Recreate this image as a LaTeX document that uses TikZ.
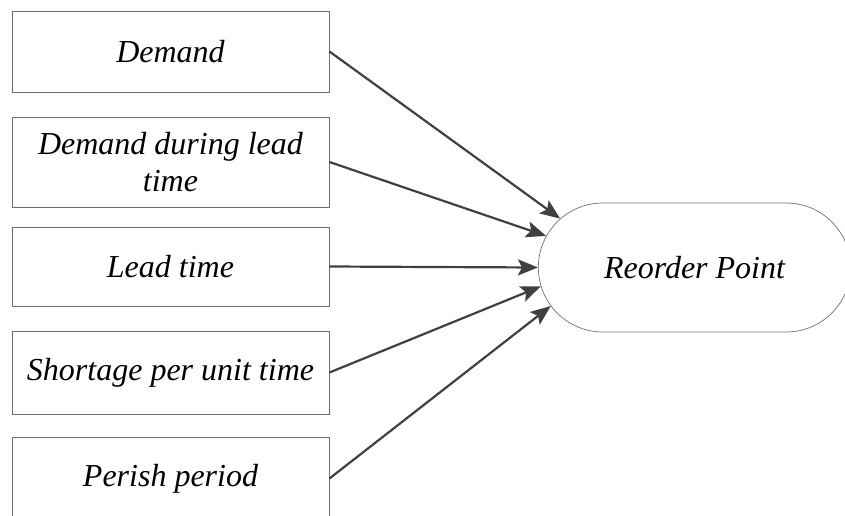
\documentclass[tikz,border=0pt]{standalone}
\usepackage{fontspec}
\setmainfont{Liberation Serif}
\usetikzlibrary{shapes.misc,arrows.meta}
\definecolor{boxline}{RGB}{110,110,110}
\definecolor{arrowline}{RGB}{64,64,64}

\begin{document}
\begin{tikzpicture}[x=1pt,y=-1pt]
			\tikzstyle{factor}=[draw=boxline, line width=0.9pt, minimum width=317pt, inner sep=0pt, align=center, font=\fontsize{32}{37}\selectfont\itshape]
			\tikzstyle{target}=[rounded rectangle, draw=boxline, line width=0.7pt, minimum width=319pt, minimum height=129pt, font=\fontsize{32}{37}\selectfont\itshape]
			\tikzset{edge/.style = {draw=arrowline, line width=2.2pt, -{Stealth[length=20pt,width=16pt,inset=4pt]}}}
			
			\useasboundingbox (0,0) rectangle (845,516);
			
			\node[factor, minimum height=81pt](demand) at (170.5,51.5) {Demand};
			\node[factor, minimum height=90pt](leaddemand) at (170.5,162) {Demand during lead\\ time};
			\node[factor, minimum height=79pt](leadtime) at (170.5,266.5) {Lead time};
			\node[factor, minimum height=83pt](shortage) at (170.5,372.5) {Shortage per unit time};
			\node[factor, minimum height=83pt](perish) at (170.5,478.5) {Perish period};
			
			\node[target](reorder) at (694.5,267.5) {Reorder Point};
			
			\draw[edge](demand.east) to (reorder.160);
			\draw[edge](leaddemand.east) to (reorder.168);
			\draw[edge](leadtime.east) to (reorder.west);
			\draw[edge](shortage.east) to (reorder.187);
			\draw[edge](perish.east) to (reorder.195);
			
			\end{tikzpicture}
\end{document}
